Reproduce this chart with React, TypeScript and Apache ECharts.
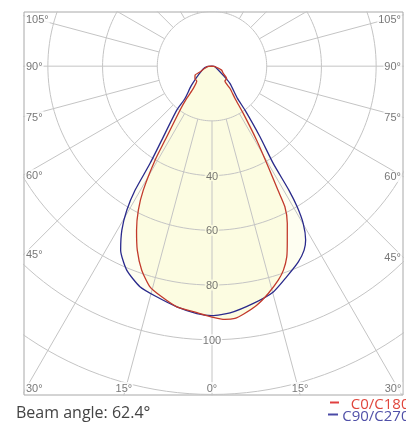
import React, { useEffect, useRef } from "react";
import * as echarts from "echarts";

// ---- polar grid values ----
const ringValues = [20, 40, 60, 80, 100, 120, 140];
const ringLabelValues = [40, 60, 80, 100];
const spokeAngles = [0, 15, 30, 45, 60, 75, 90, 105, 120, 135, 150, 165];
const angleLabelAngles = [0, 15, 30, 45, 60, 75, 90, 105];

// ---- C0/C180 (red) : right half C0, left half C180 ----
const c0Angles = [0, 2.9, 5.2, 7.2, 10.6, 13.9, 17.2, 19.3, 21.4, 23.4, 25.6, 27.4, 28.0, 29.2, 31.1, 33.5, 35.5, 38.9, 40.9, 50.1, 57.1, 67.6, 80, 180];
const c0Values = [91.7, 92.7, 92.6, 91.4, 88.9, 85.6, 81.9, 79.0, 74.9, 69.3, 63.7, 57.9, 51.3, 42.2, 31.6, 20.7, 14.5, 10.5, 7.2, 7.0, 4.9, 3.8, 1.1, 0];
const c180Angles = [0, 3.5, 8.3, 12.3, 15.7, 19.0, 22.1, 24.7, 27.1, 29.0, 31.2, 32.4, 36.0, 38.1, 40.0, 45.6, 54.1, 62.1, 64.6, 86, 180];
const c180Values = [91.7, 90.3, 88.9, 86.3, 83.8, 78.9, 72.6, 66.0, 59.1, 51.8, 40.2, 32.0, 19.9, 15.0, 10.6, 7.8, 7.7, 7.0, 4.9, 1.5, 0];

// ---- C90/C270 (blue) : right half C90, left half C270 ----
const c90Angles = [0, 4.2, 9.9, 15.2, 19.5, 23.8, 26.6, 28.3, 30.1, 31.2, 31.8, 32.2, 34.2, 36.9, 38.3, 46.1, 50.2, 80, 180];
const c90Values = [91.2, 90.4, 88.0, 85.5, 81.7, 78.2, 75.2, 72.2, 66.5, 60.1, 53.4, 42.0, 31.2, 20.1, 15.0, 9.1, 5.7, 1.1, 0];
const c270Angles = [0, 3.5, 8.3, 13.5, 18.1, 22.7, 26.4, 28.8, 30.6, 31.8, 32.5, 34.2, 38.7, 39.9, 46.4, 51.8, 56.7, 71.6, 84, 180];
const c270Values = [91.2, 90.6, 88.9, 86.7, 84.8, 80.8, 75.1, 68.4, 61.2, 53.4, 42.2, 32.7, 20.6, 15.4, 10.6, 7.7, 6.0, 3.5, 1.8, 0];

const legendNames = ["C0/C180", "C90/C270"];
const beamAngleText = "Beam angle: 62.4°";

// ---- layout / style ----
const GRID = { left: 24, top: 12, width: 379, height: 383 };
const Y_MIN = -120.2;
const Y_MAX = 19.8;
const S = GRID.height / (Y_MAX - Y_MIN); // px per unit
const CENTER_PX = 212;
const X_MIN = -(CENTER_PX - GRID.left) / S;
const X_MAX = X_MIN + GRID.width / S;

const RED = "#c23a2c";
const BLUE = "#2a2a8c";
const GRID_COLOR = "#c4c4c4";
const FILL_RED = "#fcfce1";
const FILL_BLUE = "#fefef1";
const LABEL_COLOR = "#555";
const LABEL_FONT = "Liberation Sans";

const rad = (d: number) => (d * Math.PI) / 180;
const toXY = (angle: number, value: number, side: number) => [
  side * value * Math.sin(rad(angle)),
  -value * Math.cos(rad(angle)),
];

function buildCurve(leftA: number[], leftV: number[], rightA: number[], rightV: number[]) {
  const pts: number[][] = [];
  for (let i = leftA.length - 1; i >= 0; i--) pts.push(toXY(leftA[i], leftV[i], -1));
  for (let i = 1; i < rightA.length; i++) pts.push(toXY(rightA[i], rightV[i], 1));
  return pts;
}

function angleLabelItem(angle: number, side: number) {
  const dx = side * Math.sin(rad(angle));
  const dy = -Math.cos(rad(angle));
  let tx = Infinity;
  let ty = Infinity;
  if (dx < -1e-9) tx = X_MIN / dx;
  if (dx > 1e-9) tx = X_MAX / dx;
  if (dy < -1e-9) ty = Y_MIN / dy;
  if (dy > 1e-9) ty = Y_MAX / dy;
  const common = {
    show: true,
    formatter: "{b}",
    color: LABEL_COLOR,
    fontSize: 11,
    fontFamily: LABEL_FONT,
    backgroundColor: "#fff",
    padding: [0, 1],
    distance: 1,
  };
  if (tx <= ty) {
    const y = Math.min(Math.max(tx * dy, Y_MIN + 7 / S), Y_MAX - 7 / S);
    const x = dx < 0 ? X_MIN : X_MAX;
    return { name: angle + "°", value: [x, y], label: { ...common, position: dx < 0 ? "right" : "left" } };
  }
  if (dy < 0) {
    const x = Math.min(Math.max(ty * dx, X_MIN + 10 / S), X_MAX - 10 / S);
    return { name: angle + "°", value: [x, Y_MIN], label: { ...common, position: "top", distance: 2 } };
  }
  return null;
}

export default function App() {
  const ref = useRef<HTMLDivElement>(null);
  useEffect(() => {
    if (!ref.current) return;
    const chart = echarts.init(ref.current, undefined, { renderer: "svg" });

    const redCurve = buildCurve(c180Angles, c180Values, c0Angles, c0Values);
    const blueCurve = buildCurve(c270Angles, c270Values, c90Angles, c90Values);

    const series: any[] = [];

    const fillSeries = (pts: number[][], fill: string, z: number) => ({
      type: "custom",
      coordinateSystem: "cartesian2d",
      silent: true,
      z,
      data: pts,
      renderItem: (params: any, api: any) => {
        if (params.dataIndex !== 0) return null;
        return {
          type: "polygon",
          shape: { points: pts.map((p) => api.coord(p)) },
          style: { fill, stroke: null },
        };
      },
    });
    series.push(fillSeries(blueCurve, FILL_BLUE, 1));
    series.push(fillSeries(redCurve, FILL_RED, 1));

    ringValues.forEach((r) => {
      const pts: number[][] = [];
      for (let a = 0; a <= 360; a += 2) pts.push([r * Math.sin(rad(a)), r * Math.cos(rad(a))]);
      series.push({
        type: "line",
        data: pts,
        showSymbol: false,
        silent: true,
        z: 2,
        clip: true,
        lineStyle: { color: GRID_COLOR, width: 1 },
      });
    });
    spokeAngles.forEach((a) => {
      const sides = a === 0 ? [1] : [-1, 1];
      sides.forEach((side) => {
        series.push({
          type: "line",
          data: [toXY(a, ringValues[0], side), toXY(a, 220, side)],
          showSymbol: false,
          silent: true,
          z: 2,
          clip: true,
          lineStyle: { color: GRID_COLOR, width: 1 },
        });
      });
    });

    series.push({
      name: legendNames[0],
      type: "line",
      data: redCurve,
      showSymbol: false,
      smooth: 0.2,
      z: 4,
      lineStyle: { color: RED, width: 1.3 },
    });
    series.push({
      name: legendNames[1],
      type: "line",
      data: blueCurve,
      showSymbol: false,
      smooth: 0.2,
      z: 3,
      lineStyle: { color: BLUE, width: 1.3 },
    });

    // ring labels
    series.push({
      type: "scatter",
      symbolSize: 0,
      silent: true,
      z: 5,
      data: ringLabelValues.map((r) => ({
        name: String(r),
        value: [0, -r],
        label: {
          show: true,
          formatter: "{b}",
          position: "inside",
          color: LABEL_COLOR,
          fontSize: 11,
          fontFamily: LABEL_FONT,
          backgroundColor: r < 90 ? FILL_RED : "#fff",
          padding: [0, 1],
        },
      })),
    });

    // angle labels
    const angleItems: any[] = [];
    angleLabelAngles.forEach((a) => {
      const sides = a === 0 ? [1] : [-1, 1];
      sides.forEach((side) => {
        const it = angleLabelItem(a, side);
        if (it) angleItems.push(it);
      });
    });
    series.push({
      type: "scatter",
      symbolSize: 0,
      silent: true,
      z: 6,
      data: angleItems,
    });

    chart.setOption({
      animation: false,
      grid: {
        ...GRID,
        show: true,
        borderColor: "#a8a8a8",
        borderWidth: 1,
        backgroundColor: "transparent",
      },
      xAxis: {
        type: "value",
        min: X_MIN,
        max: X_MAX,
        show: false,
      },
      yAxis: {
        type: "value",
        min: Y_MIN,
        max: Y_MAX,
        show: false,
      },
      series,
      graphic: [
        {
          type: "text",
          x: 16,
          y: 412,
          style: {
            text: beamAngleText,
            fontSize: 16,
            fontFamily: "Open Sans",
            fill: "#444",
            align: "left",
            verticalAlign: "middle",
          },
        },
        {
          type: "line",
          shape: { x1: 330, y1: 402.5, x2: 339, y2: 402.5 },
          style: { stroke: "#e04040", lineWidth: 2 },
        },
        {
          type: "text",
          x: 409.5,
          y: 403,
          style: {
            text: legendNames[0],
            fontSize: 15,
            fontFamily: "Open Sans",
            fill: "#e0463c",
            align: "right",
            verticalAlign: "middle",
          },
        },
        {
          type: "line",
          shape: { x1: 328, y1: 414.5, x2: 338, y2: 414.5 },
          style: { stroke: "#4a4aa6", lineWidth: 2 },
        },
        {
          type: "text",
          x: 409.5,
          y: 415,
          style: {
            text: legendNames[1],
            fontSize: 15,
            fontFamily: "Open Sans",
            fill: "#5050a8",
            align: "right",
            verticalAlign: "middle",
          },
        },
      ],
    });
    return () => chart.dispose();
  }, []);
  return (
    <div
      ref={ref}
      style={{ position: "fixed", left: 0, top: 0, width: 406, height: 424 }}
    />
  );
}
